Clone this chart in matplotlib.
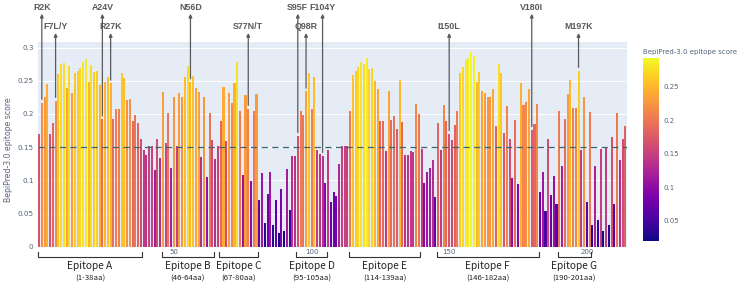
import numpy as np
import matplotlib
matplotlib.use('Agg')
import matplotlib.pyplot as plt
from matplotlib.colors import Normalize
import matplotlib.transforms as mtransforms

# ---------------- data ----------------
scores = [
    0.170, 0.217, 0.225, 0.245, 0.170, 0.187, 0.220, 0.260, 0.275, 0.277,
    0.239, 0.273, 0.232, 0.262, 0.265, 0.270, 0.279, 0.283, 0.248, 0.274,
    0.264, 0.265, 0.244, 0.192, 0.248, 0.256, 0.246, 0.192, 0.207, 0.207,
    0.261, 0.254, 0.221, 0.222, 0.189, 0.199, 0.186, 0.163, 0.145, 0.138,
    0.151, 0.151, 0.116, 0.162, 0.134, 0.233, 0.156, 0.201, 0.119, 0.225,
    0.152, 0.232, 0.225, 0.255, 0.273, 0.248, 0.257, 0.239, 0.233, 0.135,
    0.226, 0.105, 0.201, 0.161, 0.132, 0.151, 0.190, 0.241, 0.160, 0.232,
    0.217, 0.247, 0.278, 0.205, 0.108, 0.228, 0.208, 0.099, 0.204, 0.230,
    0.070, 0.111, 0.036, 0.080, 0.113, 0.032, 0.070, 0.020, 0.087, 0.024,
    0.117, 0.055, 0.136, 0.137, 0.167, 0.205, 0.198, 0.234, 0.262, 0.208,
    0.255, 0.146, 0.139, 0.137, 0.096, 0.146, 0.068, 0.082, 0.077, 0.125,
    0.151, 0.151, 0.151, 0.205, 0.259, 0.265, 0.271, 0.279, 0.276, 0.284,
    0.268, 0.270, 0.249, 0.237, 0.189, 0.190, 0.144, 0.235, 0.191, 0.197,
    0.177, 0.251, 0.188, 0.138, 0.138, 0.144, 0.143, 0.215, 0.200, 0.147,
    0.096, 0.112, 0.118, 0.131, 0.075, 0.186, 0.146, 0.214, 0.189, 0.170,
    0.161, 0.184, 0.204, 0.262, 0.271, 0.282, 0.284, 0.293, 0.287, 0.248,
    0.264, 0.235, 0.232, 0.225, 0.225, 0.238, 0.182, 0.276, 0.261, 0.172,
    0.212, 0.162, 0.103, 0.191, 0.094, 0.246, 0.213, 0.218, 0.238, 0.176,
    0.185, 0.215, 0.083, 0.112, 0.054, 0.162, 0.078, 0.107, 0.064, 0.204,
    0.122, 0.193, 0.230, 0.251, 0.209, 0.209, 0.265, 0.146, 0.225, 0.068,
    0.203, 0.032, 0.122, 0.040, 0.147, 0.023, 0.149, 0.032, 0.165, 0.065,
    0.202, 0.130, 0.162, 0.182,
]
residues = list(range(1, len(scores) + 1))
threshold = 0.15

mutation_labels = ['R2K', 'F7L/Y', 'A24V', 'R27K', 'N56D', 'S77N/T',
                   'S95F', 'Q98R', 'F104Y', 'I150L', 'V180I', 'M197K']
mutation_pos = [2, 7, 24, 27, 56, 77, 95, 98, 104, 150, 180, 197]

epitope_names = ['Epitope A', 'Epitope B', 'Epitope C', 'Epitope D',
                 'Epitope E', 'Epitope F', 'Epitope G']
epitope_start = [1, 46, 67, 95, 114, 146, 190]
epitope_end = [38, 64, 80, 105, 139, 182, 201]

x_ticks = [50, 100, 150, 200]
y_ticks = [0, 0.05, 0.1, 0.15, 0.2, 0.25, 0.3]
cbar_ticks = [0.05, 0.1, 0.15, 0.2, 0.25]
axis_title = 'BepiPred-3.0 epitope score'

# ---------------- figure ----------------
W, H = 743, 288
fig = plt.figure(figsize=(W / 100, H / 100), dpi=100)
fig.patch.set_facecolor('white')

def fx(px):
    return px / W

def fy(py):
    return 1 - py / H

ax_l, ax_r, ax_t, ax_b = 37.7, 626.7, 42.3, 246.7
ax = fig.add_axes([fx(ax_l), fy(ax_b), fx(ax_r - ax_l), (ax_b - ax_t) / H])
ax.set_facecolor('#e5ecf6')

vals = np.array(scores)
norm = Normalize(vmin=vals.min(), vmax=vals.max())
cmap = plt.get_cmap('plasma')
ax.bar(residues, vals, width=0.74, color=cmap(norm(vals)), zorder=3, linewidth=0)

ax.set_xlim(0.5, len(scores) + 0.5)
ax.set_ylim(0, 0.308)

for yt in y_ticks:
    ax.axhline(yt, color='white', lw=0.7, zorder=1)

ax.axhline(threshold, color='#3d6670', lw=0.9, ls=(0, (5, 3.5)), zorder=4)

for s in ax.spines.values():
    s.set_visible(False)

tick_col = '#56657a'
ax.set_yticks(y_ticks)
ax.set_yticklabels([('%g' % t) for t in y_ticks], fontsize=5.2, color=tick_col)
ax.set_xticks(x_ticks)
ax.set_xticklabels([str(t) for t in x_ticks], fontsize=5.0, color=tick_col)
ax.tick_params(axis='both', length=0)
ax.tick_params(axis='y', pad=3)
ax.tick_params(axis='x', pad=1.5)
fig.text(fx(9), fy(150), axis_title, rotation=90, fontsize=5.6,
         color=tick_col, ha='center', va='center')

# mutation annotations
ann_col = '#5a5a5a'
for i, (lab, pos) in enumerate(zip(mutation_labels, mutation_pos)):
    upper = (i % 2 == 0)
    text_y = 0.361 if upper else 0.332
    tip_y = 0.351 if upper else 0.322
    base = scores[pos - 1] + 0.005
    ax.annotate('', xy=(pos, tip_y), xytext=(pos, base),
                arrowprops=dict(arrowstyle='-|>', color=ann_col, lw=0.9,
                                shrinkA=0, shrinkB=0, mutation_scale=5),
                annotation_clip=False, zorder=5)
    ax.text(pos, text_y, lab, ha='center', va='center', fontsize=6.4,
            fontweight='bold', color=ann_col, clip_on=False,
            family=['Liberation Sans', 'DejaVu Sans'])

# epitope brackets
trans = mtransforms.blended_transform_factory(ax.transData, ax.transAxes)
axh = ax_b - ax_t
y_line = -(256.7 - ax_b) / axh
y_tick = -(252.3 - ax_b) / axh
y_name = -(266.0 - ax_b) / axh
y_rng = -(279.0 - ax_b) / axh
for name, s, e in zip(epitope_names, epitope_start, epitope_end):
    x0, x1 = s - 0.5, e + 0.5
    ax.plot([x0, x0, x1, x1], [y_tick, y_line, y_line, y_tick], color='#333333',
            lw=0.8, transform=trans, clip_on=False)
    xc = (x0 + x1) / 2
    ax.text(xc, y_name, name, ha='center', va='center', fontsize=7.3,
            color='#222222', transform=trans,
            family=['Noto Sans CJK SC', 'DejaVu Sans'])
    ax.text(xc, y_rng, '(%d-%daa)' % (s, e), ha='center', va='center',
            fontsize=5.6, color='#222222', transform=trans,
            family=['Noto Sans CJK SC', 'DejaVu Sans'])

# colorbar
cax = fig.add_axes([fx(643), fy(241), fx(659 - 643), (241 - 58) / H])
sm = plt.cm.ScalarMappable(norm=norm, cmap=cmap)
cb = fig.colorbar(sm, cax=cax, ticks=cbar_ticks)
cb.outline.set_visible(False)
cb.ax.tick_params(length=0, labelsize=5.0, labelcolor=tick_col, pad=3)
cb.ax.set_yticklabels([('%g' % t) for t in cbar_ticks])
fig.text(fx(643), fy(52), axis_title, fontsize=5.0, color=tick_col,
         ha='left', va='center')

fig.savefig('out.png', dpi=100)
